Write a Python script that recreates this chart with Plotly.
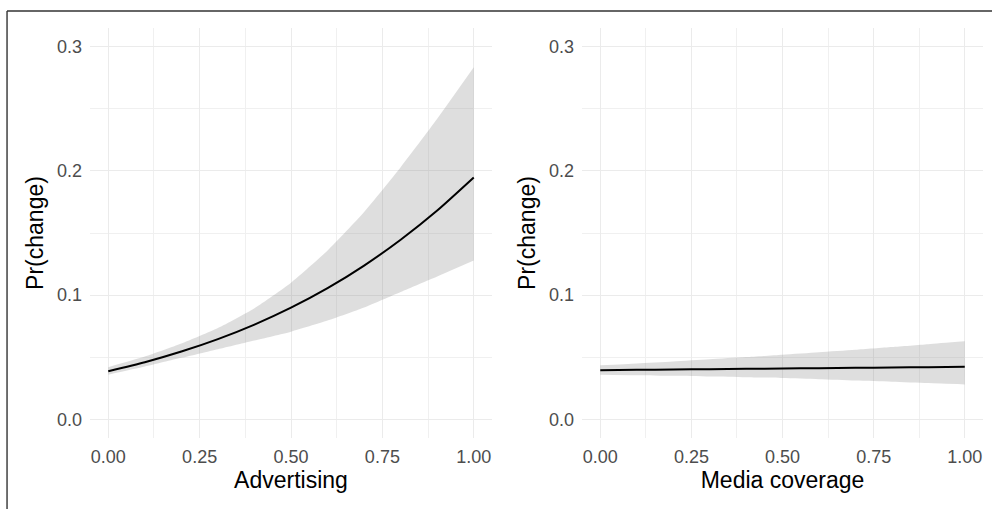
import plotly.graph_objects as go

# Predicted probabilities and 95% bands, sampled along each predictor
x_grid = [0.0, 0.1, 0.2, 0.3, 0.4, 0.5, 0.6, 0.7, 0.8, 0.9, 1.0]

adv_fit = [0.0388, 0.0460, 0.0546, 0.0646, 0.0763, 0.0899, 0.1056, 0.1238, 0.1446, 0.1681, 0.1947]
adv_upper = [0.0420, 0.0505, 0.0610, 0.0735, 0.0895, 0.1100, 0.1360, 0.1670, 0.2030, 0.2420, 0.2834]
adv_lower = [0.0360, 0.0425, 0.0495, 0.0565, 0.0635, 0.0706, 0.0795, 0.0900, 0.1025, 0.1150, 0.1278]

media_fit = [0.0396, 0.0399, 0.0401, 0.0404, 0.0407, 0.0409, 0.0412, 0.0415, 0.0417, 0.0420, 0.0423]
media_upper = [0.0435, 0.0450, 0.0466, 0.0483, 0.0501, 0.0520, 0.0540, 0.0560, 0.0582, 0.0605, 0.0628]
media_lower = [0.0360, 0.0356, 0.0351, 0.0345, 0.0339, 0.0333, 0.0323, 0.0313, 0.0303, 0.0292, 0.0281]

x_ticks = [0.0, 0.25, 0.5, 0.75, 1.0]
y_ticks = [0.0, 0.1, 0.2, 0.3]
x_titles = ["Advertising", "Media coverage"]
y_title = "Pr(change)"

BAND = "rgba(128,128,128,0.26)"
FONT = "Liberation Sans, Arial, sans-serif"
SMOOTH = dict(shape="spline", smoothing=0.6)

fig = go.Figure()

panels = [(adv_fit, adv_upper, adv_lower), (media_fit, media_upper, media_lower)]
for i, (fit, up, lo) in enumerate(panels):
    xa = "x" if i == 0 else "x2"
    ya = "y" if i == 0 else "y2"
    # confidence ribbon: lower edge, then upper edge filled down to it
    fig.add_trace(go.Scatter(
        x=x_grid, y=lo, mode="lines", line=dict(width=0, **SMOOTH),
        hoverinfo="skip", showlegend=False, xaxis=xa, yaxis=ya))
    fig.add_trace(go.Scatter(
        x=x_grid, y=up, mode="lines", line=dict(width=0, **SMOOTH),
        fill="tonexty", fillcolor=BAND,
        hoverinfo="skip", showlegend=False, xaxis=xa, yaxis=ya))
    fig.add_trace(go.Scatter(
        x=x_grid, y=fit, mode="lines",
        line=dict(color="black", width=2, **SMOOTH),
        showlegend=False, xaxis=xa, yaxis=ya))

grid_major = dict(showgrid=True, gridcolor="#EBEBEB", gridwidth=1.3,
                  zeroline=False, showline=False, ticks="",
                  tickfont=dict(size=18, color="#4D4D4D", family=FONT))

def x_axis(domain, title, anchor):
    return dict(grid_major, domain=domain, anchor=anchor, range=[-0.05, 1.05],
                tickvals=x_ticks, tickformat=".2f", ticklabelstandoff=6,
                minor=dict(tick0=0, dtick=0.125, showgrid=True,
                           gridcolor="#F0F0F0", gridwidth=0.9),
                title=dict(text=title, font=dict(size=23, color="black", family=FONT),
                           standoff=5))

def y_axis(anchor):
    return dict(grid_major, anchor=anchor, range=[-0.015, 0.315],
                tickvals=y_ticks, tickformat=".1f", ticklabelstandoff=7,
                minor=dict(tick0=0, dtick=0.05, showgrid=True,
                           gridcolor="#F0F0F0", gridwidth=0.9),
                title=dict(text=y_title, font=dict(size=23, color="black", family=FONT),
                           standoff=6))

# Outer frame along the top and left edges
frame = dict(color="#333333", width=1.4)
shapes = [
    dict(type="line", xref="paper", yref="paper", x0=-0.0929, x1=1.2, y0=1.0415, y1=1.0415, line=frame),
    dict(type="line", xref="paper", yref="paper", x0=-0.0929, x1=-0.0929, y0=1.0415, y1=-0.3, line=frame),
]

fig.update_layout(
    width=992, height=509,
    margin=dict(l=90, r=9, t=28, b=71),
    paper_bgcolor="white", plot_bgcolor="white",
    font=dict(family=FONT),
    xaxis=x_axis([0, 0.4502], x_titles[0], "y"),
    xaxis2=x_axis([0.551, 1], x_titles[1], "y2"),
    yaxis=y_axis("x"),
    yaxis2=y_axis("x2"),
    shapes=shapes,
)

fig.write_html("out.html")
